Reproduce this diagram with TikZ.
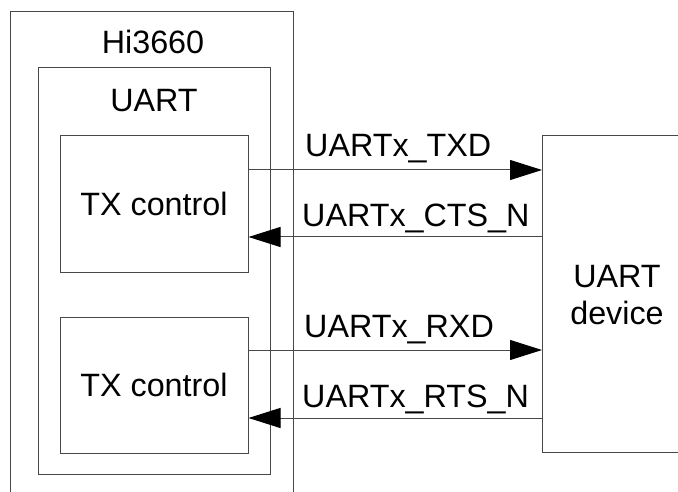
\documentclass[tikz,border=0pt]{standalone}
\usepackage{fontspec}
\setmainfont{Liberation Sans}
\definecolor{LineGray}{HTML}{484848}
\usetikzlibrary{arrows.meta,positioning,calc}

\begin{document}
\begin{tikzpicture}[x=1pt,y=-1pt,
    box/.style={draw=LineGray,line width=1pt},
    blk/.style={box,minimum width=188pt,minimum height=136pt,
        font=\fontsize{32.3}{37}\selectfont},
    txt/.style={font=\fontsize{32.3}{37}\selectfont,inner sep=0pt},
    sig/.style={draw=LineGray,line width=1pt,
        -{Triangle[length=32pt,width=20pt,black]}}]
    \useasboundingbox (0,0) rectangle (678,492);
    % chip and uart frames
    \draw[box] (10,492) -- (10,12) -- (293,12) -- (293,492);
    \node[txt,anchor=base] (hi) at (153,54) {Hi3660};
    \draw[box] (38,68) rectangle (270,474);
    \node[txt,anchor=base] (uart) at (154,112) {UART};
    % control blocks
    \node[blk] (txa) at (154,204) {TX control};
    \node[blk] (txb) at (154,385) {TX control};
    % device, open on the right
    \draw[box] (678,136) -- (542,136) -- (542,452) -- (678,452);
    \coordinate (devl) at (542,295);
    \node[txt,align=center,font=\fontsize{32.3}{37}\selectfont]
        (dev) at (617,295) {UART\\device};
    % signals
    \draw[sig] ([yshift=34pt]txa.east) -- ([yshift=34pt]txa.east -| devl);
    \draw[sig] ([yshift=-33pt]txa.east -| devl) -- ([yshift=-33pt]txa.east);
    \draw[sig] ([yshift=35pt]txb.east) -- ([yshift=35pt]txb.east -| devl);
    \draw[sig] ([yshift=-33pt]txb.east -| devl) -- ([yshift=-33pt]txb.east);
    \node[txt,anchor=base west] (txd) at (305,157) {UARTx\_TXD};
    \node[txt,anchor=base west] (cts) at (302,226) {UARTx\_CTS\_N};
    \node[txt,anchor=base west] (rxd) at (304,337) {UARTx\_RXD};
    \node[txt,anchor=base west] (rts) at (302,407) {UARTx\_RTS\_N};
\end{tikzpicture}
\end{document}
